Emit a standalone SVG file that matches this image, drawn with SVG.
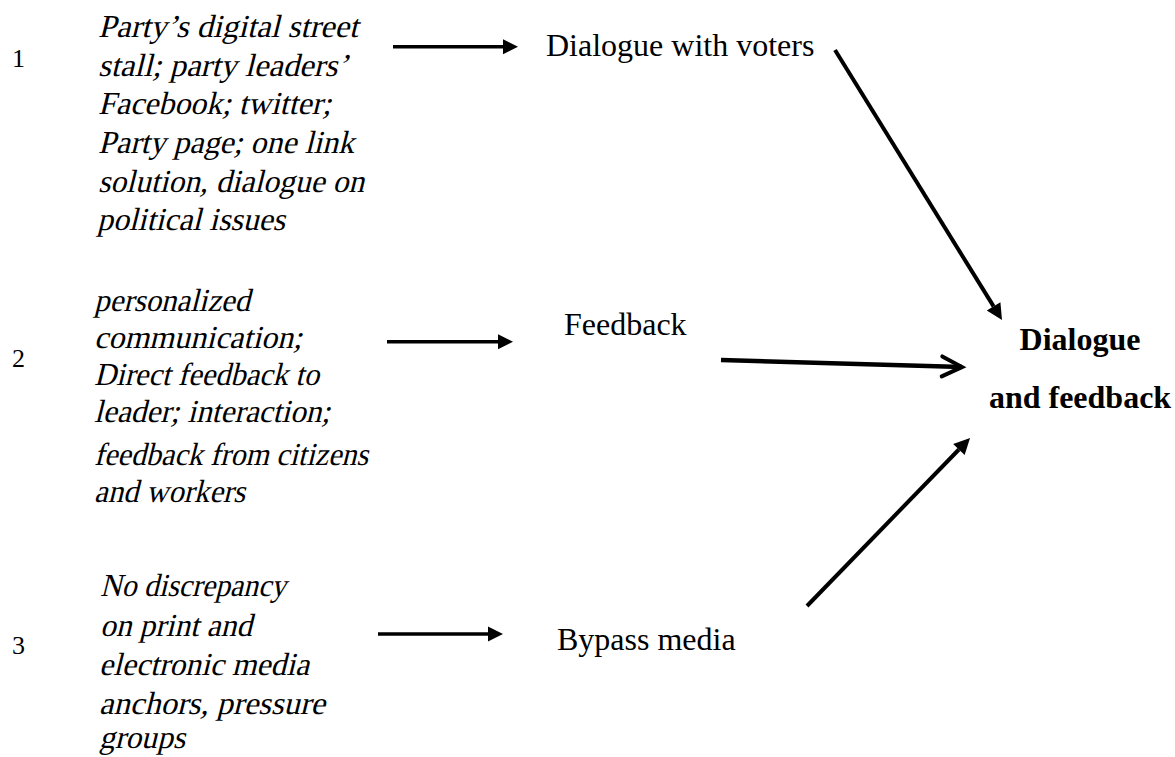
<svg xmlns="http://www.w3.org/2000/svg" width="1175" height="757" viewBox="0 0 1175 757">
<style>
  .it { font-family: "Liberation Serif", "DejaVu Serif", serif; font-size: 32px; fill: #000; }
  .rm { font-family: "Liberation Serif", "DejaVu Serif", serif; font-size: 32px; fill: #000; }
  .bd { font-family: "Liberation Serif", "DejaVu Serif", serif; font-weight: bold; font-size: 32px; fill: #000; text-anchor: middle; }
  .num { font-family: "Liberation Serif", "DejaVu Serif", serif; font-size: 26px; fill: #000; }
  .ln { stroke: #000; fill: none; }
</style>
<defs>
  <marker id="headS" markerUnits="userSpaceOnUse" markerWidth="15" markerHeight="15" refX="0" refY="7.5" orient="auto" overflow="visible">
    <path d="M0,0 L15,7.5 L0,15 Z" fill="#000"/>
  </marker>
  <marker id="headL" markerUnits="userSpaceOnUse" markerWidth="16" markerHeight="16" refX="0" refY="8" orient="auto" overflow="visible">
    <path d="M0,0 L16,8 L0,16 Z" fill="#000"/>
  </marker>
  <marker id="headOpen" markerUnits="userSpaceOnUse" markerWidth="22" markerHeight="22" refX="20" refY="10" orient="auto" overflow="visible">
    <path d="M0,0 L20,10 L0,20" fill="none" stroke="#000" stroke-width="4" stroke-linecap="round" stroke-linejoin="miter"/>
  </marker>
</defs>

<g id="source1">
  <text class="num" x="12" y="67">1</text>
  <text class="it" transform="translate(98,37) skewX(-14)" textLength="260" lengthAdjust="spacingAndGlyphs">Party’s digital street</text>
  <text class="it" transform="translate(98,76) skewX(-14)" textLength="250" lengthAdjust="spacingAndGlyphs">stall; party leaders’</text>
  <text class="it" transform="translate(98,114) skewX(-14)" textLength="233" lengthAdjust="spacingAndGlyphs">Facebook; twitter;</text>
  <text class="it" transform="translate(98,153) skewX(-14)" textLength="256" lengthAdjust="spacingAndGlyphs">Party page; one link</text>
  <text class="it" transform="translate(98,192) skewX(-14)" textLength="266" lengthAdjust="spacingAndGlyphs">solution, dialogue on</text>
  <text class="it" transform="translate(97,230) skewX(-14)" textLength="188" lengthAdjust="spacingAndGlyphs">political issues</text>
</g>

<g id="source2">
  <text class="num" x="12" y="367">2</text>
  <text class="it" transform="translate(94,311) skewX(-14)" textLength="156" lengthAdjust="spacingAndGlyphs">personalized</text>
  <text class="it" transform="translate(94,348) skewX(-14)" textLength="208" lengthAdjust="spacingAndGlyphs">communication;</text>
  <text class="it" transform="translate(94,385) skewX(-14)" textLength="225" lengthAdjust="spacingAndGlyphs">Direct feedback to</text>
  <text class="it" transform="translate(94,422) skewX(-14)" textLength="236" lengthAdjust="spacingAndGlyphs">leader; interaction;</text>
  <text class="it" transform="translate(94,465) skewX(-14)" textLength="274" lengthAdjust="spacingAndGlyphs">feedback from citizens</text>
  <text class="it" transform="translate(94,502) skewX(-14)" textLength="151" lengthAdjust="spacingAndGlyphs">and workers</text>
</g>

<g id="source3">
  <text class="num" x="12" y="654">3</text>
  <text class="it" transform="translate(100,596) skewX(-14)" textLength="186" lengthAdjust="spacingAndGlyphs">No discrepancy</text>
  <text class="it" transform="translate(100,636) skewX(-14)" textLength="152" lengthAdjust="spacingAndGlyphs">on print and</text>
  <text class="it" transform="translate(99,675) skewX(-14)" textLength="210" lengthAdjust="spacingAndGlyphs">electronic media</text>
  <text class="it" transform="translate(99,714) skewX(-14)" textLength="226" lengthAdjust="spacingAndGlyphs">anchors, pressure</text>
  <text class="it" transform="translate(99,748) skewX(-14)" textLength="86" lengthAdjust="spacingAndGlyphs">groups</text>
</g>

<g id="dialogue-voters">
  <text class="rm" x="546" y="56">Dialogue with voters</text>
</g>

<g id="feedback">
  <text class="rm" x="564" y="335">Feedback</text>
</g>

<g id="bypass-media">
  <text class="rm" x="557" y="650">Bypass media</text>
</g>

<g id="dialogue-feedback">
  <text class="bd" x="1080" y="350">Dialogue</text>
  <text class="bd" x="1080" y="408">and feedback</text>
</g>

<g id="connectors">
  <line class="ln" x1="393" y1="46.7" x2="503" y2="46.7" stroke-width="3.5" marker-end="url(#headS)"/>
  <line class="ln" x1="387" y1="341.7" x2="498" y2="341.7" stroke-width="3.5" marker-end="url(#headS)"/>
  <line class="ln" x1="378" y1="634" x2="488" y2="634" stroke-width="3.5" marker-end="url(#headS)"/>
  <line class="ln" x1="835" y1="50" x2="993.6" y2="306.4" stroke-width="4" marker-end="url(#headL)"/>
  <line class="ln" x1="721" y1="360" x2="962" y2="367" stroke-width="4.5" marker-end="url(#headOpen)"/>
  <line class="ln" x1="807" y1="606" x2="958.9" y2="449.5" stroke-width="4" marker-end="url(#headL)"/>
</g>
</svg>
